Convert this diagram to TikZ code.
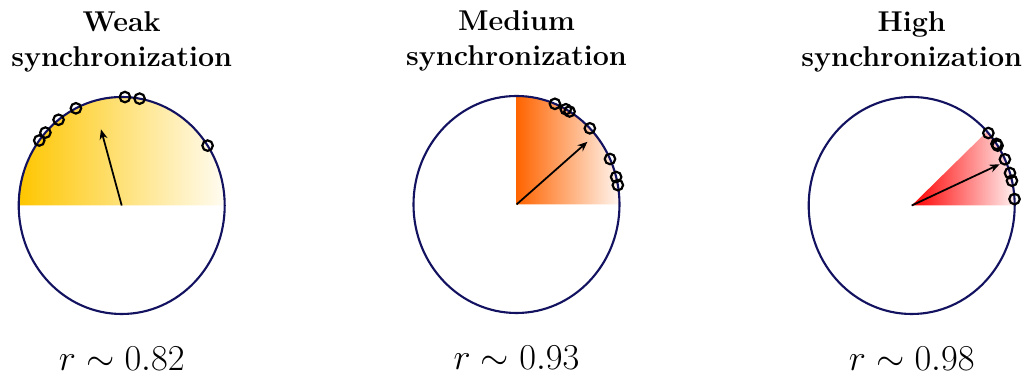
\documentclass[tikz,border=0pt]{standalone}
\usepackage{amsmath}
\usepackage{amssymb}
\usetikzlibrary{arrows.meta, positioning, shapes.geometric}

\definecolor{circnavy}{RGB}{18,18,96}
\definecolor{weakyellow}{RGB}{254,198,0}
\definecolor{medorange}{RGB}{255,100,0}
\definecolor{highred}{RGB}{255,0,0}

\begin{document}
\begin{tikzpicture}[
    unitcirc/.style={ellipse, draw=circnavy, line width=1.2pt, minimum width=4.12cm, minimum height=4.34cm, inner sep=0pt},
    phase/.style={draw=black, line width=1.25pt},
    meanarrow/.style={-{Stealth[length=2mm, width=1.6mm]}, line width=1pt},
    heading/.style={align=center, inner sep=0pt, font=\fontsize{16.3}{19.9}\selectfont\bfseries},
    orderlabel/.style={inner sep=0pt, font=\fontsize{20}{24}\selectfont},
    unitxy/.style={x=2.06cm, y=2.17cm},
]
    \fill[white] (0,0) rectangle (20.66,7.6);

    \coordinate (o1) at (2.434,3.49);
    \coordinate (o2) at (10.33,3.51);
    \coordinate (o3) at (18.234,3.49);

    % shaded sectors
    \begin{scope}[shift={(o1)}, unitxy]
        \shade[left color=weakyellow, right color=weakyellow!5] (0,0) -- (1,0) arc[start angle=0, end angle=180, radius=1] -- cycle;
    \end{scope}
    \begin{scope}[shift={(o2)}, unitxy]
        \shade[left color=medorange, right color=medorange!6] (0,0) -- (1,0) arc[start angle=0, end angle=90, radius=1] -- cycle;
    \end{scope}
    \begin{scope}[shift={(o3)}, unitxy]
        \shade[left color=highred, right color=highred!6] (0,0) -- (1,0) arc[start angle=0, end angle=43, radius=1] -- cycle;
    \end{scope}

    \node[unitcirc] (c1) at (o1) {};
    \node[unitcirc] (c2) at (o2) {};
    \node[unitcirc] (c3) at (o3) {};

    \node[heading, above=0.47cm of c1] (t1) {Weak\\synchronization};
    \node[heading, above=0.47cm of c2] (t2) {Medium\\synchronization};
    \node[heading, above=0.47cm of c3] (t3) {High\\synchronization};

    \node[orderlabel, below=0.63cm of c1] (r1) {$r\sim 0.82$};
    \node[orderlabel, below=0.63cm of c2] (r2) {$r\sim 0.93$};
    \node[orderlabel, below=0.63cm of c3] (r3) {$r\sim 0.98$};

    % phases and mean vectors
    \begin{scope}[shift={(o1)}, unitxy]
        \coordinate (m1) at (106:0.73);
        \draw[meanarrow] (c1.center) -- (m1);
        \draw[phase] (143.2:1) circle[radius=0.105cm] (137.8:1) circle[radius=0.105cm]
            (127.8:1) circle[radius=0.105cm] (116.4:1) circle[radius=0.105cm]
            (88.2:1) circle[radius=0.105cm] (80:1) circle[radius=0.105cm]
            (33.5:1) circle[radius=0.105cm];
    \end{scope}
    \begin{scope}[shift={(o2)}, unitxy]
        \coordinate (m2) at (40:0.9);
        \draw[meanarrow] (c2.center) -- (m2);
        \draw[phase] (68.1:1) circle[radius=0.105cm] (61.4:1) circle[radius=0.105cm]
            (59:1) circle[radius=0.105cm] (44.6:1) circle[radius=0.105cm]
            (24.8:1) circle[radius=0.105cm] (14.7:1) circle[radius=0.105cm]
            (10.3:1) circle[radius=0.105cm];
    \end{scope}
    \begin{scope}[shift={(o3)}, unitxy]
        \coordinate (m3) at (24:0.935);
        \draw[meanarrow] (c3.center) -- (m3);
        \draw[phase] (41.9:1) circle[radius=0.105cm] (34.6:1) circle[radius=0.105cm]
            (33.5:1) circle[radius=0.105cm] (25.2:1) circle[radius=0.105cm]
            (17.4:1) circle[radius=0.105cm] (13.2:1) circle[radius=0.105cm]
            (3.4:1) circle[radius=0.105cm];
    \end{scope}
\end{tikzpicture}
\end{document}
